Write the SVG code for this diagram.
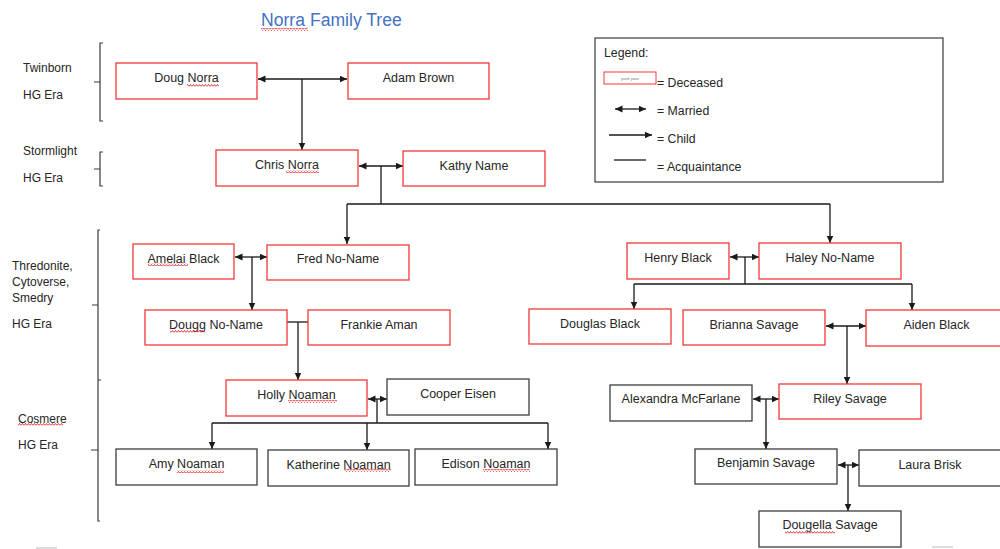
<svg xmlns="http://www.w3.org/2000/svg" width="1000" height="549" viewBox="0 0 1000 549">
<style>
text{font-family:"Liberation Sans",Arial,sans-serif;fill:#262626}
.t{font-size:12.5px;text-anchor:middle}
.s{font-size:12px}
.lg{font-size:12.3px}
.red{fill:#fff;stroke:#f0393b;stroke-width:1.3}
.blk{fill:#fff;stroke:#3c3c3c;stroke-width:1.3}
.c{fill:none;stroke:#1a1a1a;stroke-width:1.3}
.m{marker-start:url(#ah);marker-end:url(#ah)}
.a{marker-end:url(#ah)}
.br{fill:none;stroke:#3a3a3a;stroke-width:1.2}
.sq{fill:url(#squig)}
</style>
<defs>
<marker id="ah" markerUnits="userSpaceOnUse" markerWidth="8" markerHeight="8" refX="7.5" refY="3.5" orient="auto-start-reverse">
<path d="M0,0 L7.5,3.5 L0,7 z" fill="#1a1a1a"/>
</marker>
<pattern id="squig" patternUnits="userSpaceOnUse" width="3" height="3" x="0" y="0">
<path d="M0,2.5 L1.5,0.5 L3,2.5" fill="none" stroke="#e0262a" stroke-width="0.9"/>
</pattern>
</defs>
<rect width="1000" height="549" fill="#fff"/>

<text x="261" y="26" style="font-size:17.6px;fill:#4472c4">Norra Family Tree</text>

<g id="eras">
<path class="br" d="M103,43 H100 V121 H103 M100,82 H94"/>
<path class="br" d="M103,152 H100 V186 H103 M100,169 H94"/>
<path class="br" d="M100,230 H98 V521 H100 M98,305 H92 M98,380 H101 M98,450 H91"/>
<text class="s" x="23" y="72">Twinborn</text>
<text class="s" x="23" y="99">HG Era</text>
<text class="s" x="23" y="155">Stormlight</text>
<text class="s" x="23" y="182">HG Era</text>
<text class="s" x="12" y="270">Thredonite,</text>
<text class="s" x="12" y="286">Cytoverse,</text>
<text class="s" x="12" y="302">Smedry</text>
<text class="s" x="12" y="328">HG Era</text>
<text class="s" x="18" y="423">Cosmere</text>
<text class="s" x="18" y="449">HG Era</text>
</g>

<g id="legend">
<rect x="595" y="38" width="348" height="144" fill="#fff" stroke="#3a3a3a" stroke-width="1.2"/>
<text class="lg" x="604" y="57">Legend:</text>
<rect x="604" y="72" width="52" height="12" fill="#fff" stroke="#f0393b" stroke-width="1"/>
<text x="630" y="80" style="font-size:4px;text-anchor:middle;fill:#777">yunk yoxx</text>
<text class="lg" x="657" y="87">= Deceased</text>
<path class="c m" d="M615,109 H646"/>
<text class="lg" x="657" y="115">= Married</text>
<path class="c a" d="M609,135 H652"/>
<text class="lg" x="657" y="143">= Child</text>
<path class="c" d="M614,160 H646"/>
<text class="lg" x="657" y="171">= Acquaintance</text>
</g>

<g id="connectors">
<path class="c m" d="M258,79 H347"/>
<path class="c a" d="M302,79 V150"/>
<path class="c m" d="M359,166 H403"/>
<path class="c" d="M381,166 V204 M347,204 H830"/>
<path class="c a" d="M347,204 V244"/>
<path class="c a" d="M830,204 V243"/>
<path class="c m" d="M235,257 H267"/>
<path class="c a" d="M252,257 V310"/>
<path class="c" d="M287,322 H308"/>
<path class="c a" d="M298,322 V380"/>
<path class="c m" d="M730,257 H759"/>
<path class="c" d="M745,257 V284 M634,284 H912"/>
<path class="c a" d="M634,284 V309"/>
<path class="c a" d="M912,284 V310"/>
<path class="c m" d="M826,326 H866"/>
<path class="c a" d="M847,326 V384"/>
<path class="c m" d="M368,399 H387"/>
<path class="c" d="M377,399 V423 M212,423 H548"/>
<path class="c a" d="M212,423 V449"/>
<path class="c a" d="M367,423 V450"/>
<path class="c a" d="M548,423 V449"/>
<path class="c m" d="M753,399 H779"/>
<path class="c a" d="M766,399 V449"/>
<path class="c m" d="M838,465 H859"/>
<path class="c a" d="M848,465 V511"/>
</g>

<g id="doug"><rect class="red" x="116" y="63" width="141" height="36"/><text class="t" x="186.5" y="82">Doug Norra</text></g>
<g id="adam"><rect class="red" x="348" y="63" width="141" height="36"/><text class="t" x="418.5" y="82">Adam Brown</text></g>
<g id="chris"><rect class="red" x="216" y="150" width="142" height="36"/><text class="t" x="287" y="168.5">Chris Norra</text></g>
<g id="kathy"><rect class="red" x="403" y="151" width="142" height="35"/><text class="t" x="474" y="169.5">Kathy Name</text></g>
<g id="amelai"><rect class="red" x="133" y="244" width="101" height="35"/><text class="t" x="183.5" y="262.5">Amelai Black</text></g>
<g id="fred"><rect class="red" x="267" y="245" width="142" height="35"/><text class="t" x="338" y="263">Fred No-Name</text></g>
<g id="dougg"><rect class="red" x="145" y="310" width="142" height="35"/><text class="t" x="216" y="328.5">Dougg No-Name</text></g>
<g id="frankie"><rect class="red" x="308" y="310" width="142" height="35"/><text class="t" x="379" y="328.5">Frankie Aman</text></g>
<g id="henry"><rect class="red" x="627" y="243" width="102" height="36"/><text class="t" x="678" y="261.5">Henry Black</text></g>
<g id="haley"><rect class="red" x="759" y="243" width="142" height="36"/><text class="t" x="830" y="261.5">Haley No-Name</text></g>
<g id="douglas"><rect class="red" x="529" y="309" width="142" height="35"/><text class="t" x="600" y="327.5">Douglas Black</text></g>
<g id="brianna"><rect class="red" x="683" y="310" width="142" height="35"/><text class="t" x="754" y="328.5">Brianna Savage</text></g>
<g id="aiden"><rect class="red" x="866" y="310" width="141" height="36"/><text class="t" x="936.5" y="329">Aiden Black</text></g>
<g id="holly"><rect class="red" x="226" y="380" width="141" height="36"/><text class="t" x="296.5" y="399">Holly Noaman</text></g>
<g id="cooper"><rect class="blk" x="387" y="379" width="142" height="36"/><text class="t" x="458" y="398">Cooper Eisen</text></g>
<g id="amy"><rect class="blk" x="116" y="449" width="141" height="36"/><text class="t" x="186.5" y="468">Amy Noaman</text></g>
<g id="katherine"><rect class="blk" x="268" y="450" width="141" height="36"/><text class="t" x="338.5" y="469">Katherine Noaman</text></g>
<g id="edison"><rect class="blk" x="415" y="449" width="142" height="36"/><text class="t" x="486" y="468">Edison Noaman</text></g>
<g id="alexandra"><rect class="blk" x="610" y="385" width="142" height="36"/><text class="t" x="681" y="403">Alexandra McFarlane</text></g>
<g id="riley"><rect class="red" x="779" y="384" width="142" height="35"/><text class="t" x="850" y="403">Riley Savage</text></g>
<g id="benjamin"><rect class="blk" x="695" y="449" width="142" height="35"/><text class="t" x="766" y="467">Benjamin Savage</text></g>
<g id="laura"><rect class="blk" x="859" y="450" width="142" height="36"/><text class="t" x="930" y="469">Laura Brisk</text></g>
<g id="dougella"><rect class="blk" x="759" y="511" width="142" height="36"/><text class="t" x="830" y="529">Dougella Savage</text></g>

<g id="spellmarks">
<rect class="sq" x="261" y="28" width="47" height="3"/>
<rect class="sq" x="187" y="84" width="32" height="3"/>
<rect class="sq" x="286" y="170" width="33" height="3"/>
<rect class="sq" x="148" y="263" width="40" height="3"/>
<rect class="sq" x="170" y="330" width="35" height="3"/>
<rect class="sq" x="288" y="400" width="49" height="3"/>
<rect class="sq" x="177" y="470" width="47" height="3"/>
<rect class="sq" x="344" y="469" width="47" height="3"/>
<rect class="sq" x="483" y="469" width="47" height="3"/>
<rect class="sq" x="18" y="423" width="45" height="3"/>
<rect class="sq" x="785" y="531" width="50" height="3"/>
</g>
<path d="M36,548 H57 M932,547 H953" stroke="#bbb" stroke-width="1.2"/>
</svg>
